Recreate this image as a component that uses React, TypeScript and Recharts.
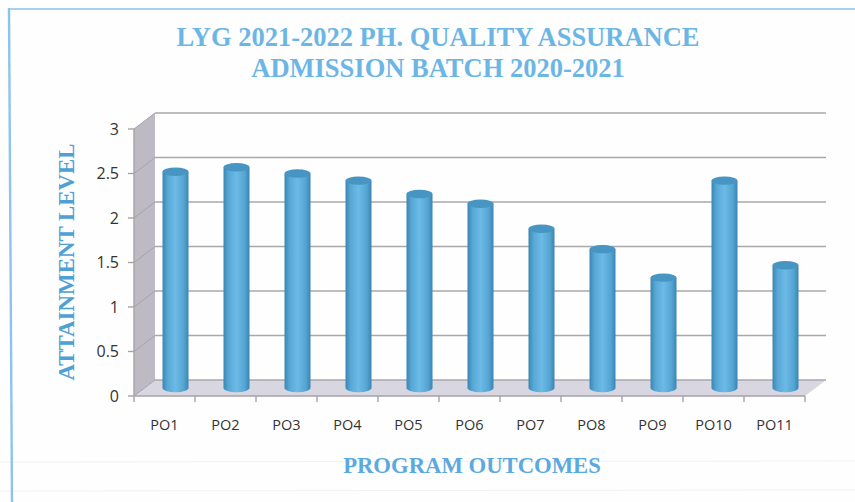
import React from 'react';
import { ComposedChart, Bar, XAxis, YAxis, usePlotArea } from 'recharts';

const categories = ['PO1','PO2','PO3','PO4','PO5','PO6','PO7','PO8','PO9','PO10','PO11'];
const attainment = [2.43,2.48,2.41,2.33,2.18,2.07,1.79,1.56,1.24,2.33,1.38];
const yTicks = [0,0.5,1,1.5,2,2.5,3];
const titleLines = ['LYG 2021-2022 PH. QUALITY ASSURANCE','ADMISSION BATCH 2020-2021'];
const yAxisTitle = 'ATTAINMENT LEVEL';
const xAxisTitle = 'PROGRAM OUTCOMES';

const data = categories.map((name, i) => ({ name, value: attainment[i] }));

const DEPTH_X = 21;
const DEPTH_Y = 16;
const SERIF = '"Liberation Serif", serif';
const SANS = '"Open Sans", sans-serif';

function Walls() {
  const p = usePlotArea();
  if (!p) return null;
  const { x, y, width, height } = p;
  const bottom = y + height;
  const right = x + width;
  const yOf = (t: number) => bottom - (t / 3) * height;
  return (
    <g>
      <polygon points={`${x},${y} ${x + DEPTH_X},${y - DEPTH_Y} ${x + DEPTH_X},${bottom - DEPTH_Y} ${x},${bottom}`} fill="#bdbac3" />
      <polygon points={`${x},${bottom} ${x + DEPTH_X},${bottom - DEPTH_Y} ${right + DEPTH_X},${bottom - DEPTH_Y} ${right},${bottom}`} fill="#d8d6e0" />
      {yTicks.map((t) => (
        <g key={t}>
          <line x1={x + DEPTH_X} x2={right + DEPTH_X} y1={yOf(t) - DEPTH_Y} y2={yOf(t) - DEPTH_Y} stroke="#aaa7ad" strokeWidth={1.4} />
          <line x1={x} x2={x + DEPTH_X} y1={yOf(t)} y2={yOf(t) - DEPTH_Y} stroke="#a5a2a8" strokeWidth={1} />
        </g>
      ))}
      {categories.concat('').map((c, i) => {
        const tx = x + (i * width) / categories.length;
        return <line key={i} x1={tx} x2={tx} y1={bottom} y2={bottom + 6} stroke="#a5a2a8" strokeWidth={1.4} />;
      })}
    </g>
  );
}

function Cylinder(props: any) {
  const { x, y, width, height } = props;
  const dx = DEPTH_X / 2;
  const dy = DEPTH_Y / 2;
  const rx = width / 2;
  const ry = 4.2;
  const l = x + dx;
  const r = l + width;
  const top = y - dy;
  const base = y + height - dy;
  return (
    <g>
      <path
        d={`M${l},${top} L${l},${base} A${rx},${ry} 0 0 0 ${r},${base} L${r},${top} Z`}
        fill="url(#cyl)"
      />
      <ellipse cx={l + rx} cy={top} rx={rx} ry={ry} fill="#4795c2" />
    </g>
  );
}

export default function App() {
  return (
    <div style={{ position: 'absolute', left: 0, top: 0, width: 855, height: 502, background: '#fefefe', overflow: 'hidden' }}>
      <svg width={855} height={502} style={{ position: 'absolute', left: 0, top: 0 }}>
        <line x1={0} x2={855} y1={462} y2={461} stroke="#f1f1ee" strokeWidth={1} />
        <line x1={0} x2={855} y1={491} y2={490} stroke="#f3f3f1" strokeWidth={1} />
        <line x1={9} x2={855} y1={9} y2={9} stroke="#a6d2f1" strokeWidth={2} />
        <line x1={9} x2={12} y1={8} y2={502} stroke="#8cc4ec" strokeWidth={2.4} />
      </svg>
      <div style={{ position: 'absolute', left: 0, top: 0 }}>
        <ComposedChart
          width={855}
          height={502}
          data={data}
          margin={{ top: 129, right: 50, bottom: 0, left: 0 }}
        >
          <defs>
            <linearGradient id="cyl" x1="0" x2="1" y1="0" y2="0">
              <stop offset="0" stopColor="#3a86b4" />
              <stop offset="0.2" stopColor="#58a8d6" />
              <stop offset="0.5" stopColor="#6cbae6" />
              <stop offset="0.82" stopColor="#54a4d2" />
              <stop offset="1" stopColor="#3a84b2" />
            </linearGradient>
          </defs>
          <Walls />
          <XAxis
            dataKey="name"
            height={106}
            tick={{ fill: '#333', fontSize: 14.5, fontFamily: SANS, dy: 16 }}
            tickLine={false}
            axisLine={{ stroke: '#a5a2a8', strokeWidth: 1.4 }}
            interval={0}
          />
          <YAxis
            width={134}
            domain={[0, 3]}
            ticks={yTicks}
            tick={{ fill: '#333', fontSize: 16, fontFamily: SANS }}
            tickLine={{ stroke: '#a5a2a8', strokeWidth: 1.4 }}
            axisLine={{ stroke: '#a5a2a8', strokeWidth: 1.4 }}
            tickSize={6}
            tickMargin={9}
          />
          <Bar dataKey="value" barSize={26} shape={<Cylinder />} isAnimationActive={false} />
          <text x={438} y={46} textAnchor="middle" fontFamily={SERIF} fontWeight="bold" fontSize={26.5} fill="#6cb6e6">{titleLines[0]}</text>
          <text x={438} y={77} textAnchor="middle" fontFamily={SERIF} fontWeight="bold" fontSize={26.5} fill="#6cb6e6">{titleLines[1]}</text>
          <text x={472} y={473} textAnchor="middle" fontFamily={SERIF} fontWeight="bold" fontSize={22.7} fill="#5aa9e0">{xAxisTitle}</text>
          <text x={74} y={262} textAnchor="middle" transform="rotate(-90 74 262)" fontFamily={SERIF} fontWeight="bold" fontSize={22.9} fill="#4fa0d4">{yAxisTitle}</text>
        </ComposedChart>
      </div>
    </div>
  );
}
